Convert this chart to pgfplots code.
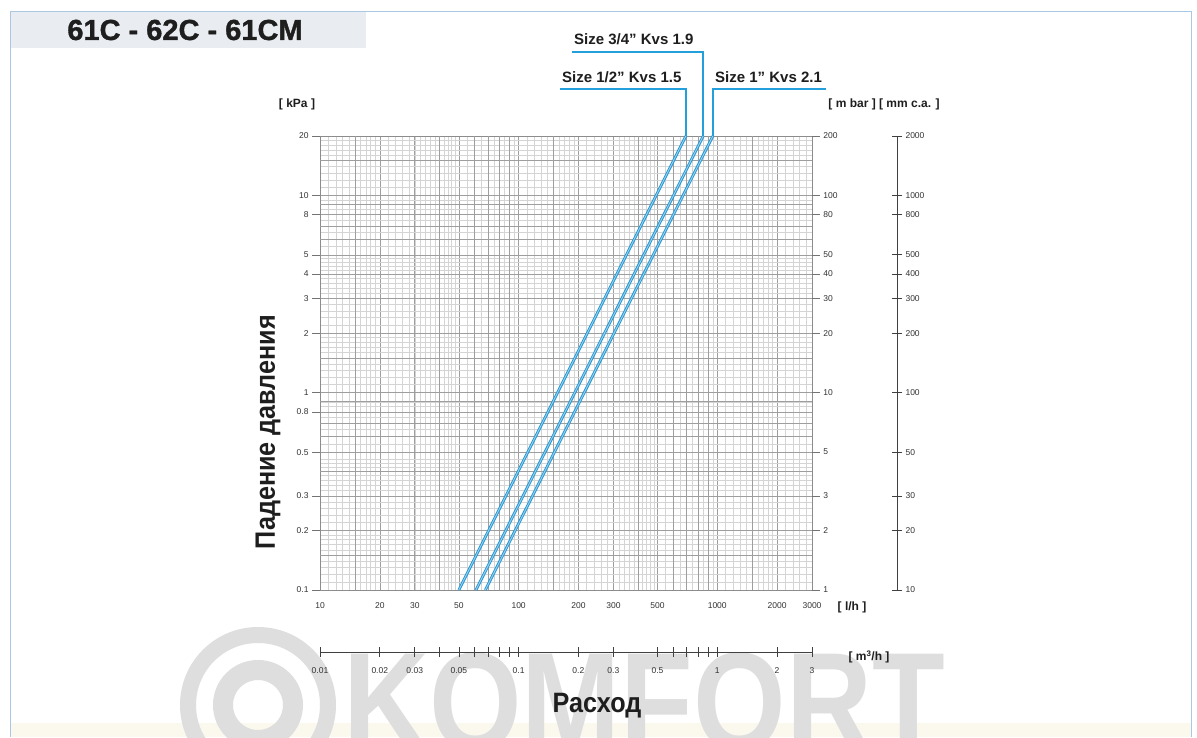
\documentclass[border=0pt]{standalone}
\usepackage{pgfplots}
\pgfplotsset{compat=1.18}
\usepackage{fontspec}
\setmainfont{Liberation Sans}
\newfontfamily\condbold[FakeStretch=0.9]{Liberation Sans Bold}
\newfontfamily\wmfont[FakeStretch=0.85]{Liberation Sans Bold}
\newfontfamily\titlefont[FakeBold=1.2]{Liberation Sans Bold}
\definecolor{kvsblue}{RGB}{40,150,210}
\definecolor{kvsinner}{RGB}{150,210,238}
\definecolor{leader}{RGB}{35,160,220}
\definecolor{framec}{RGB}{170,200,225}
\definecolor{titlebox}{RGB}{233,236,241}
\definecolor{wm}{RGB}{222,222,222}
\definecolor{cream}{RGB}{251,249,238}
\definecolor{txt}{RGB}{30,30,30}
\pgfplotsset{
  tlab/.style={font=\fontsize{8.5}{10}\selectfont, text=black!80},
}
\begin{document}
\begin{tikzpicture}
\begin{scope}[x=1pt,y=1pt]
\fill[white] (0,0) rectangle (1197,737);
\path[use as bounding box] (0,0) rectangle (1197,737);
\begin{scope}
\clip (0,0) rectangle (1197,737);
\fill[cream] (10,0) rectangle (1191,14);
\draw[wm, line width=16pt] (258,32) circle (70);
\draw[wm, line width=20pt] (258,32) circle (35);
\node[anchor=base west, inner sep=0, text=wm, font=\wmfont\fontsize{140}{140}\selectfont] at (343,-13) {KOMFORT};
\end{scope}
\fill[titlebox] (10.5,689) rectangle (366,724.5);
\draw[framec, line width=1pt] (10,0) -- (10,725) -- (1191,725) -- (1191,0);
\node[text=txt, font=\titlefont\fontsize{29}{29}\selectfont] at (185,707) {61C - 62C - 61CM};
\node[text=txt, font=\bfseries\fontsize{12}{12}\selectfont] at (297,633) {[ kPa ]};
\node[text=txt, font=\bfseries\fontsize{12}{12}\selectfont] at (884,633) {[ m bar ] [ mm c.a. ]};
\node[text=txt, font=\bfseries\fontsize{12}{12}\selectfont] at (852,130) {[ l/h ]};
\node[text=txt, font=\bfseries\fontsize{12}{12}\selectfont] at (869,80) {[ m\textsuperscript{3}/h ]};
\node[text=txt, font=\condbold\fontsize{28}{28}\selectfont, rotate=90] at (268,305) {Падение давления};
\node[text=txt, font=\condbold\fontsize{28}{28}\selectfont] at (597,31) {Расход};
\node[anchor=base west, inner sep=0, text=txt, font=\bfseries\fontsize{15}{15}\selectfont] at (562,654) {Size 1/2" Kvs 1.5};
\node[anchor=base west, inner sep=0, text=txt, font=\bfseries\fontsize{15}{15}\selectfont] at (574,692) {Size 3/4" Kvs 1.9};
\node[anchor=base west, inner sep=0, text=txt, font=\bfseries\fontsize{15}{15}\selectfont] at (715,654) {Size 1" Kvs 2.1};
\end{scope}

% main grid axis
\begin{axis}[
  at={(320pt,147pt)}, anchor=south west, scale only axis,
  width=492pt, height=454pt,
  xmode=log, ymode=log, xmin=10, xmax=3000, ymin=0.1, ymax=20,
  xtick={10,20,30,50,100,200,300,500,1000,2000,3000},
  xticklabels={10,20,30,50,100,200,300,500,1000,2000,3000},
  minor xtick={11,12,...,19,22,24,...,48,55,60,...,95,110,120,...,190,220,240,...,480,550,600,...,950,1100,1200,...,1900,2200,2400,...,3000},
  ytick={0.1,0.2,0.3,0.5,0.8,1,2,3,4,5,8,10,20},
  yticklabels={},
  minor ytick={0.11,0.12,...,0.19,0.22,0.24,...,0.48,0.55,0.6,...,0.95,1.1,1.2,...,1.9,2.2,2.4,...,4.8,5.5,6,...,9.5,11,12,...,19},
  extra x ticks={15,40,60,70,80,90,150,400,600,700,800,900,1500},
  extra x tick labels={},
  extra y ticks={0.15,0.4,0.6,0.7,0.9,1.5,6,7,9,15},
  extra y tick labels={},
  extra tick style={grid=major},
  grid=both,
  major grid style={black!38, line width=0.55pt},
  minor grid style={black!17, line width=0.45pt},
  major tick length=0pt, minor tick length=0pt,
  axis line style={black!45, line width=0.6pt},
  xticklabel style={tlab, yshift=-9pt},
  /pgf/number format/assume math mode=true,
  clip=false,
]
\addplot[kvsblue, line width=2.8pt] coordinates {(50,0.1) (695,20)};
\addplot[kvsinner, line width=0.9pt] coordinates {(50,0.1) (695,20)};
\addplot[kvsblue, line width=2.8pt] coordinates {(61,0.1) (850,20)};
\addplot[kvsinner, line width=0.9pt] coordinates {(61,0.1) (850,20)};
\addplot[kvsblue, line width=2.8pt] coordinates {(68,0.1) (950,20)};
\addplot[kvsinner, line width=0.9pt] coordinates {(68,0.1) (950,20)};
\draw[leader, line width=2.2pt] (axis cs:695,20) -- ++(0pt,47pt) -- ++(-126pt,0pt);
\draw[leader, line width=2.2pt] (axis cs:850,20) -- ++(0pt,84pt) -- ++(-131pt,0pt);
\draw[leader, line width=2.2pt] (axis cs:950,20) -- ++(0pt,47pt) -- ++(113pt,0pt);
\end{axis}

% left kPa labels
\begin{axis}[
  at={(320pt,147pt)}, anchor=south west, scale only axis,
  width=492pt, height=454pt,
  xmode=log, ymode=log, xmin=10, xmax=3000, ymin=0.1, ymax=20,
  hide x axis, axis y line*=left, y axis line style={draw=none},
  ytick={0.1,0.2,0.3,0.5,0.8,1,2,3,4,5,8,10,20},
  yticklabels={0.1,0.2,0.3,0.5,0.8,1,2,3,4,5,8,10,20},
  tick align=outside, major tick length=8pt, minor tick length=0pt,
  tick style={black!55, line width=0.5pt},
  yticklabel style={tlab},
  /pgf/number format/assume math mode=true,
]
\end{axis}

% right mbar labels
\begin{axis}[
  at={(320pt,147pt)}, anchor=south west, scale only axis,
  width=492pt, height=454pt,
  xmode=log, ymode=log, xmin=10, xmax=3000, ymin=1, ymax=200,
  hide x axis, axis y line*=right, y axis line style={draw=none},
  ytick={1,2,3,5,10,20,30,40,50,80,100,200},
  yticklabels={1,2,3,5,10,20,30,40,50,80,100,200},
  tick align=outside, major tick length=8pt, minor tick length=0pt,
  tick style={black!55, line width=0.5pt},
  yticklabel style={tlab},
  /pgf/number format/assume math mode=true,
]
\end{axis}

% mm c.a. axis
\begin{axis}[
  at={(887pt,147pt)}, anchor=south west, scale only axis,
  width=10pt, height=454pt,
  xmin=0, xmax=1, ymode=log, ymin=10, ymax=2000,
  hide x axis, axis y line*=right, y axis line style={black!75, line width=0.7pt, -},
  ytick={10,20,30,50,100,200,300,400,500,800,1000,2000},
  yticklabels={10,20,30,50,100,200,300,400,500,800,1000,2000},
  tick align=center, major tick length=10pt, minor tick length=0pt,
  tick style={black!75, line width=0.6pt},
  yticklabel style={tlab},
  /pgf/number format/assume math mode=true,
]
\end{axis}

% m3/h axis
\begin{axis}[
  at={(320pt,85pt)}, anchor=south west, scale only axis,
  width=492pt, height=20pt,
  xmode=log, xmin=0.01, xmax=3, ymin=0, ymax=1,
  hide y axis, axis x line*=bottom, x axis line style={black!75, line width=0.7pt, -},
  xtick={0.01,0.02,0.03,0.04,0.05,0.06,0.07,0.08,0.09,0.1,0.2,0.3,0.5,0.6,0.7,0.8,0.9,1,2,3},
  xticklabels={0.01,0.02,0.03,,0.05,,,,,0.1,0.2,0.3,0.5,,,,,1,2,3},
  tick align=center, major tick length=10pt, minor tick length=0pt,
  tick style={black!75, line width=0.6pt},
  xticklabel style={tlab, yshift=-7pt},
  /pgf/number format/assume math mode=true,
]
\end{axis}
\end{tikzpicture}
\end{document}
